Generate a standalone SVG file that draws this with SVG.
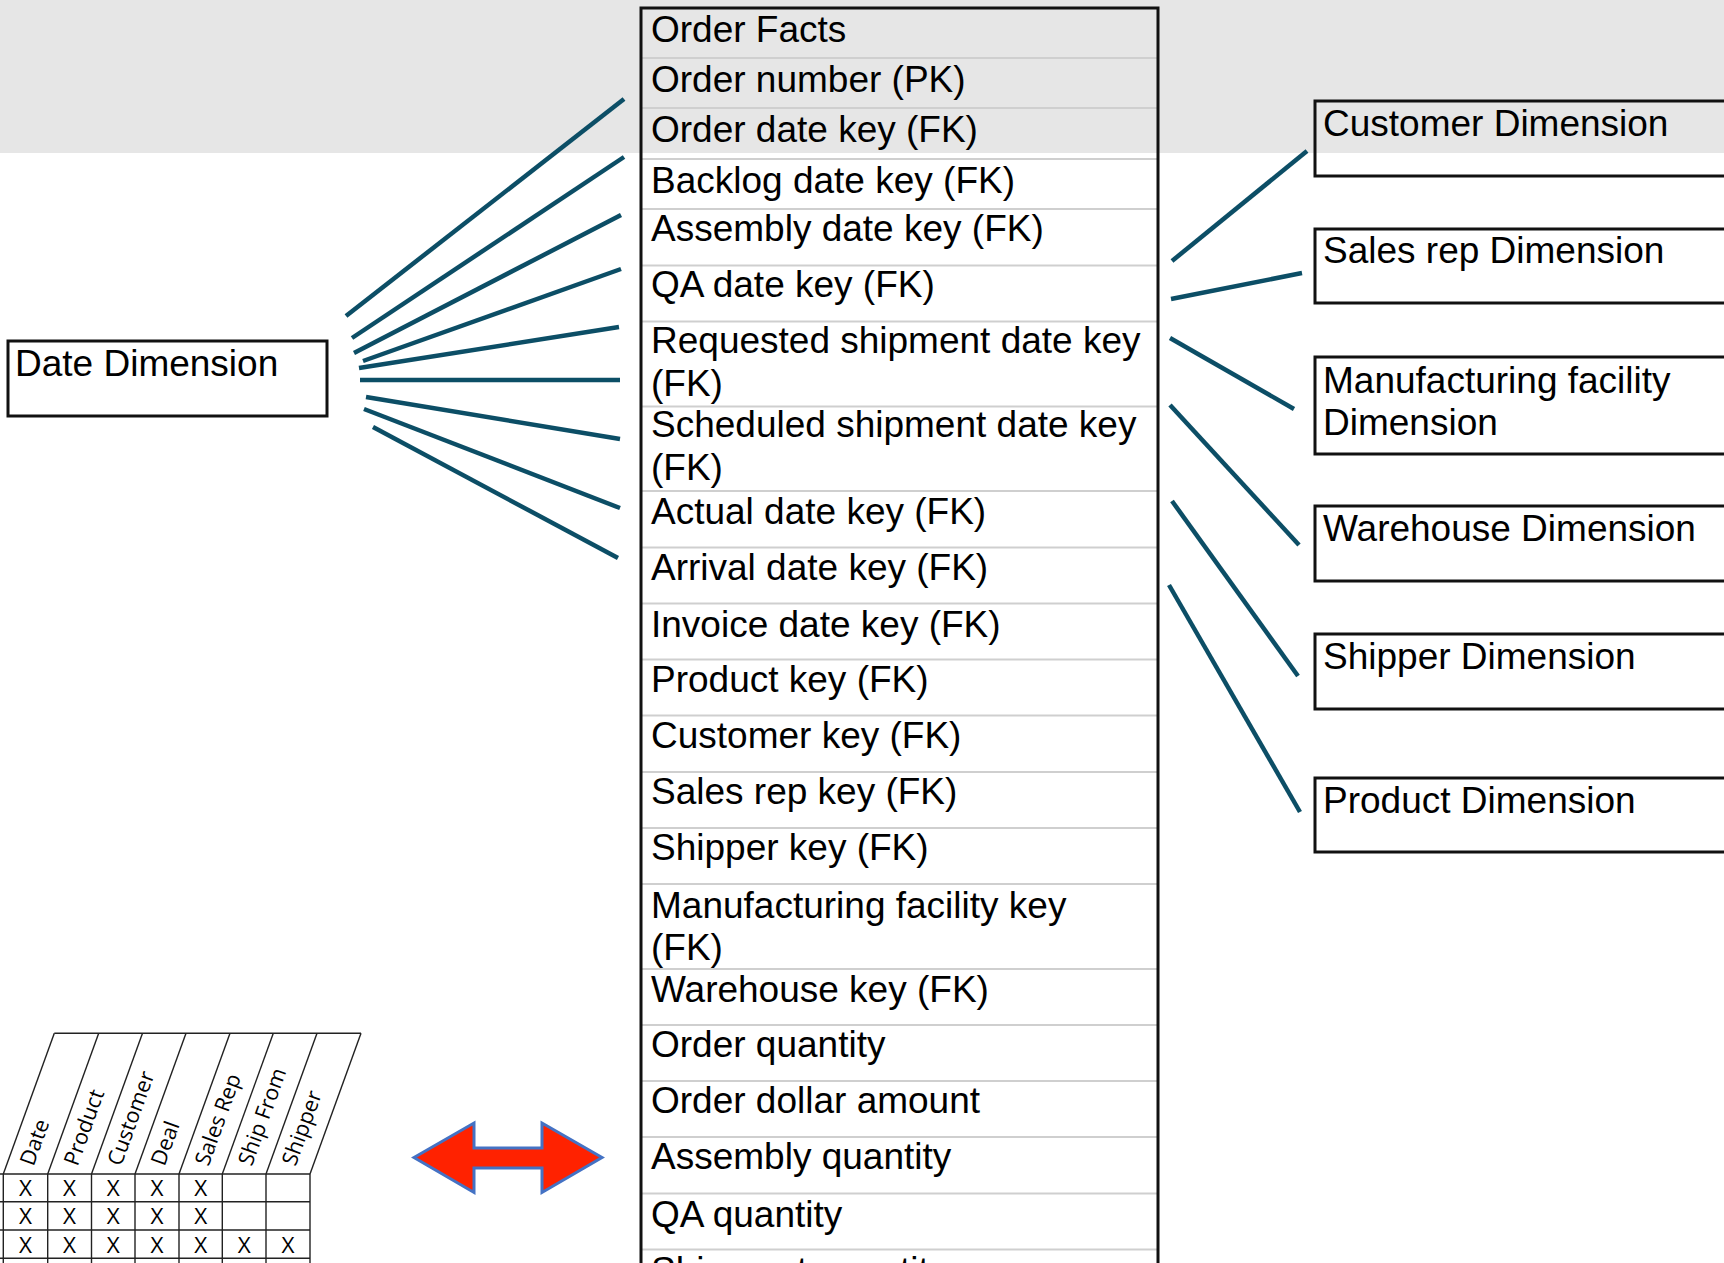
<svg xmlns="http://www.w3.org/2000/svg" width="1724" height="1263" viewBox="0 0 1724 1263">
  <style>
    .lbl { font-family: "Liberation Sans", Arial, sans-serif; font-size: 37px; fill: #000; }
    .box { fill: none; stroke: #111; stroke-width: 3; }
    .sep { stroke: #cfcfcf; stroke-width: 2; }
    .conn line { stroke: #0c4e66; stroke-width: 4.5; stroke-linecap: butt; }
    .grid { stroke: #222; stroke-width: 1.4; fill: none; }
    .hdr { font-family: "Open Sans", "Liberation Sans", sans-serif; font-size: 21.5px; fill: #000; }
    .x { font-family: "Open Sans", "Liberation Sans", sans-serif; font-size: 22.5px; font-weight: 500; fill: #000; text-anchor: middle; }
  </style>

  <!-- background band across the top -->
  <rect x="0" y="0" width="1724" height="153" fill="#e6e6e6"/>

  <!-- fact table -->
  <g id="order-facts">
    <g class="sep">
      <line x1="642" y1="58" x2="1157" y2="58"/>
      <line x1="642" y1="108" x2="1157" y2="108"/>
      <line x1="642" y1="159" x2="1157" y2="159"/>
      <line x1="642" y1="209" x2="1157" y2="209"/>
      <line x1="642" y1="265.5" x2="1157" y2="265.5"/>
      <line x1="642" y1="321.5" x2="1157" y2="321.5"/>
      <line x1="642" y1="406.5" x2="1157" y2="406.5"/>
      <line x1="642" y1="491" x2="1157" y2="491"/>
      <line x1="642" y1="547.5" x2="1157" y2="547.5"/>
      <line x1="642" y1="603.5" x2="1157" y2="603.5"/>
      <line x1="642" y1="659.5" x2="1157" y2="659.5"/>
      <line x1="642" y1="715.5" x2="1157" y2="715.5"/>
      <line x1="642" y1="772" x2="1157" y2="772"/>
      <line x1="642" y1="828" x2="1157" y2="828"/>
      <line x1="642" y1="884" x2="1157" y2="884"/>
      <line x1="642" y1="969" x2="1157" y2="969"/>
      <line x1="642" y1="1025" x2="1157" y2="1025"/>
      <line x1="642" y1="1081" x2="1157" y2="1081"/>
      <line x1="642" y1="1137" x2="1157" y2="1137"/>
      <line x1="642" y1="1193.5" x2="1157" y2="1193.5"/>
      <line x1="642" y1="1249.5" x2="1157" y2="1249.5"/>
    </g>
    <rect class="box" x="641" y="8" width="517" height="1270"/>
    <g class="lbl">
      <text x="651" y="42">Order Facts</text>
      <text x="651" y="92">Order number (PK)</text>
      <text x="651" y="142">Order date key (FK)</text>
      <text x="651" y="193">Backlog date key (FK)</text>
      <text x="651" y="241">Assembly date key (FK)</text>
      <text x="651" y="297">QA date key (FK)</text>
      <text x="651" y="353">Requested shipment date key</text>
      <text x="651" y="396">(FK)</text>
      <text x="651" y="437">Scheduled shipment date key</text>
      <text x="651" y="480">(FK)</text>
      <text x="651" y="524">Actual date key (FK)</text>
      <text x="651" y="580">Arrival date key (FK)</text>
      <text x="651" y="637">Invoice date key (FK)</text>
      <text x="651" y="692">Product key (FK)</text>
      <text x="651" y="748">Customer key (FK)</text>
      <text x="651" y="804">Sales rep key (FK)</text>
      <text x="651" y="860">Shipper key (FK)</text>
      <text x="651" y="918">Manufacturing facility key</text>
      <text x="651" y="960">(FK)</text>
      <text x="651" y="1002">Warehouse key (FK)</text>
      <text x="651" y="1057">Order quantity</text>
      <text x="651" y="1113">Order dollar amount</text>
      <text x="651" y="1169">Assembly quantity</text>
      <text x="651" y="1227">QA quantity</text>
      <text x="651" y="1283">Shipment quantity</text>
    </g>
  </g>

  <!-- dimension tables -->
  <g id="date-dimension">
    <rect class="box" x="8" y="341" width="319" height="75"/>
    <text class="lbl" x="15" y="376">Date Dimension</text>
  </g>
  <g id="customer-dimension">
    <rect class="box" x="1315" y="101" width="430" height="75"/>
    <text class="lbl" x="1323" y="136">Customer Dimension</text>
  </g>
  <g id="sales-rep-dimension">
    <rect class="box" x="1315" y="229" width="430" height="74"/>
    <text class="lbl" x="1323" y="263">Sales rep Dimension</text>
  </g>
  <g id="manufacturing-facility-dimension">
    <rect class="box" x="1315" y="357" width="430" height="97"/>
    <text class="lbl" x="1323" y="393">Manufacturing facility</text>
    <text class="lbl" x="1323" y="435">Dimension</text>
  </g>
  <g id="warehouse-dimension">
    <rect class="box" x="1315" y="506" width="430" height="75"/>
    <text class="lbl" x="1323" y="541">Warehouse Dimension</text>
  </g>
  <g id="shipper-dimension">
    <rect class="box" x="1315" y="634" width="430" height="75"/>
    <text class="lbl" x="1323" y="669">Shipper Dimension</text>
  </g>
  <g id="product-dimension">
    <rect class="box" x="1315" y="778" width="430" height="74"/>
    <text class="lbl" x="1323" y="813">Product Dimension</text>
  </g>

  <!-- connectors -->
  <g id="connectors" class="conn">
    <line x1="346" y1="316" x2="624" y2="99"/>
    <line x1="352" y1="338" x2="624" y2="157"/>
    <line x1="354" y1="353" x2="621" y2="215"/>
    <line x1="363" y1="361" x2="621" y2="269"/>
    <line x1="359" y1="368" x2="619" y2="327"/>
    <line x1="360" y1="380" x2="620" y2="380"/>
    <line x1="366" y1="397" x2="620" y2="439"/>
    <line x1="364" y1="409" x2="620" y2="508"/>
    <line x1="373" y1="427" x2="618" y2="558"/>
    <line x1="1172" y1="261" x2="1307" y2="151"/>
    <line x1="1171" y1="299" x2="1302" y2="273"/>
    <line x1="1170" y1="338" x2="1294" y2="409"/>
    <line x1="1170" y1="405" x2="1299" y2="545"/>
    <line x1="1172" y1="501" x2="1298" y2="676"/>
    <line x1="1169" y1="585" x2="1300" y2="812"/>
  </g>

  <!-- bus matrix excerpt -->
  <g id="bus-matrix">
    <g class="grid">
      <line x1="54.3" y1="1033.3" x2="361" y2="1033.3"/>
      <line x1="3.3" y1="1174" x2="54.3" y2="1033.3"/>
      <line x1="47.7" y1="1174" x2="98.7" y2="1033.3"/>
      <line x1="91.5" y1="1174" x2="142.5" y2="1033.3"/>
      <line x1="135" y1="1174" x2="186" y2="1033.3"/>
      <line x1="179" y1="1174" x2="230" y2="1033.3"/>
      <line x1="222.3" y1="1174" x2="273.3" y2="1033.3"/>
      <line x1="266" y1="1174" x2="317" y2="1033.3"/>
      <line x1="310" y1="1174" x2="361" y2="1033.3"/>
      <line x1="-5" y1="1174" x2="310" y2="1174"/>
      <line x1="-5" y1="1201.7" x2="310" y2="1201.7"/>
      <line x1="-5" y1="1230" x2="310" y2="1230"/>
      <line x1="-5" y1="1258.3" x2="310" y2="1258.3"/>
      <line x1="3.3" y1="1174" x2="3.3" y2="1270"/>
      <line x1="47.7" y1="1174" x2="47.7" y2="1270"/>
      <line x1="91.5" y1="1174" x2="91.5" y2="1270"/>
      <line x1="135" y1="1174" x2="135" y2="1270"/>
      <line x1="179" y1="1174" x2="179" y2="1270"/>
      <line x1="222.3" y1="1174" x2="222.3" y2="1270"/>
      <line x1="266" y1="1174" x2="266" y2="1270"/>
      <line x1="310" y1="1174" x2="310" y2="1270"/>
    </g>
    <g class="hdr">
      <text transform="translate(33.5,1167) rotate(-70)">Date</text>
      <text transform="translate(77.5,1167) rotate(-70)">Product</text>
      <text transform="translate(121,1167) rotate(-70)">Customer</text>
      <text transform="translate(164.5,1167) rotate(-70)">Deal</text>
      <text transform="translate(208.5,1167) rotate(-70)">Sales Rep</text>
      <text transform="translate(251.8,1167) rotate(-70)">Ship From</text>
      <text transform="translate(295.5,1167) rotate(-70)">Shipper</text>
    </g>
    <g class="x">
      <text x="25.5" y="1196">X</text>
      <text x="69.6" y="1196">X</text>
      <text x="113.3" y="1196">X</text>
      <text x="157" y="1196">X</text>
      <text x="200.7" y="1196">X</text>
      <text x="25.5" y="1224">X</text>
      <text x="69.6" y="1224">X</text>
      <text x="113.3" y="1224">X</text>
      <text x="157" y="1224">X</text>
      <text x="200.7" y="1224">X</text>
      <text x="25.5" y="1253">X</text>
      <text x="69.6" y="1253">X</text>
      <text x="113.3" y="1253">X</text>
      <text x="157" y="1253">X</text>
      <text x="200.7" y="1253">X</text>
      <text x="244.2" y="1253">X</text>
      <text x="288" y="1253">X</text>
    </g>
  </g>

  <!-- double-headed arrow -->
  <g id="double-arrow">
    <polygon points="414,1157.5 474,1123 474,1148 542,1148 542,1123 602,1157.5 542,1192.5 542,1168 474,1168 474,1192.5" fill="#ff2200" stroke="#4472c4" stroke-width="3" stroke-linejoin="miter"/>
  </g>
</svg>
